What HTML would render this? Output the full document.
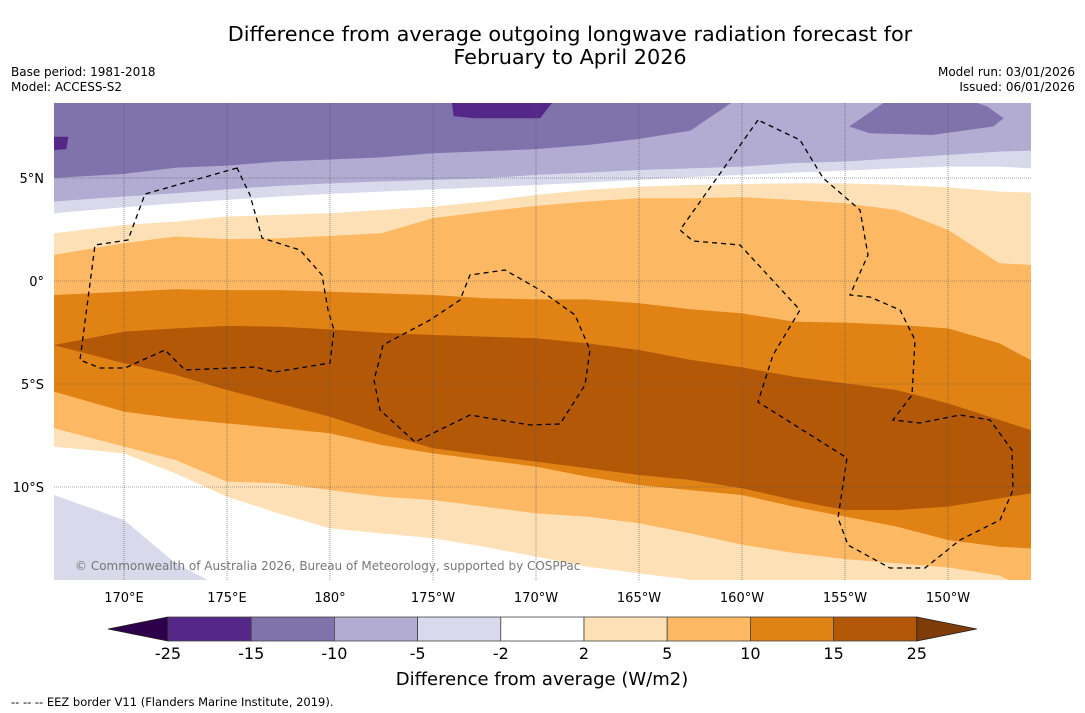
<!DOCTYPE html>
<html><head><meta charset="utf-8"><style>
body{margin:0;background:#fff;width:1085px;height:713px;overflow:hidden;font-family:"Liberation Sans","DejaVu Sans",sans-serif}
svg{position:absolute;left:0;top:0}
</style></head><body>
<svg id="c" width="1085" height="713" viewBox="0 0 1085 713">
<text x="570" y="41" text-anchor="middle" font-size="20.8" font-family="DejaVu Sans,sans-serif">Difference from average outgoing longwave radiation forecast for</text>
<text x="570" y="64" text-anchor="middle" font-size="20.8" font-family="DejaVu Sans,sans-serif">February to April 2026</text>
<text x="11" y="76" font-size="12" font-family="DejaVu Sans,sans-serif">Base period: 1981-2018</text>
<text x="11" y="91" font-size="12" font-family="DejaVu Sans,sans-serif">Model: ACCESS-S2</text>
<text x="1075" y="76" text-anchor="end" font-size="12" font-family="DejaVu Sans,sans-serif">Model run: 03/01/2026</text>
<text x="1075" y="91" text-anchor="end" font-size="12" font-family="DejaVu Sans,sans-serif">Issued: 06/01/2026</text>
<defs><clipPath id="mapclip"><rect x="54" y="103" width="977" height="477"/></clipPath></defs>
<g id="map" clip-path="url(#mapclip)"></g>
<g id="axes"></g>
<g id="cbar"></g>
<text x="542" y="685" text-anchor="middle" font-size="18" font-family="DejaVu Sans,sans-serif">Difference from average (W/m2)</text>
<text x="11" y="706" font-size="11.5" font-family="DejaVu Sans,sans-serif">--  --  -- EEZ border V11 (Flanders Marine Institute, 2019).</text>
</svg>
<script>
// longitudes (degrees east, >180 = west) of boundary samples
const lons=[166.6,170,172.5,175,177.5,180,182.5,185,187.5,190,192.5,195,197.5,200,202.5,205,207.5,210,212.5,214];
// contour boundary latitudes (top to bottom)
const b_m15_m10=[5.0,5.2,5.5,5.6,5.8,5.9,6.0,6.2,6.3,6.4,6.6,6.9,7.3,9,9,9,9,9,9,9];
const b_m10_m5=[3.86,4.10,4.26,4.45,4.62,4.74,4.83,4.91,4.99,5.15,5.26,5.39,5.47,5.55,5.72,5.80,5.96,6.12,6.28,6.33];
const b_m5_m2=[3.29,3.58,3.77,3.94,4.10,4.23,4.34,4.45,4.55,4.66,4.78,4.91,5.04,5.15,5.26,5.36,5.47,5.55,5.55,5.47];
const b_m2_2=[2.32,2.72,2.88,3.13,3.21,3.29,3.45,3.61,3.86,4.18,4.42,4.58,4.66,4.71,4.74,4.74,4.66,4.55,4.34,4.29];
const b_2_5=[1.27,1.83,2.16,2.03,2.07,2.19,2.32,3.05,3.37,3.64,3.86,4.02,4.02,4.07,3.94,3.77,3.45,2.48,0.86,0.78];
const b_5_10=[-0.68,-0.52,-0.40,-0.44,-0.44,-0.52,-0.60,-0.68,-0.84,-0.89,-0.89,-1.08,-1.37,-1.57,-1.97,-2.02,-2.13,-2.30,-3.03,-3.83];
const b_10_15=[-3.11,-2.46,-2.30,-2.18,-2.22,-2.35,-2.51,-2.62,-2.70,-2.78,-3.03,-3.35,-3.83,-4.19,-4.64,-4.97,-5.29,-5.94,-6.75,-7.23];
const b_15_10=[-3.11,-3.99,-4.56,-5.29,-5.94,-6.59,-7.39,-8.12,-8.45,-8.77,-9.09,-9.42,-9.66,-10.06,-10.63,-11.12,-11.12,-10.95,-10.55,-10.31];
const b_10_5=[-5.37,-6.34,-6.67,-6.91,-7.15,-7.39,-7.96,-8.37,-8.69,-9.01,-9.50,-9.90,-10.15,-10.39,-10.95,-11.44,-11.92,-12.57,-12.90,-12.98];
const b_5_2=[-7.15,-8.04,-8.69,-9.74,-9.82,-10.15,-10.47,-10.63,-10.95,-11.28,-11.44,-11.76,-12.25,-12.80,-13.2,-13.5,-13.7,-13.9,-14.3,-15];
const b_2_m2=[-8.04,-8.37,-9.34,-10.47,-11.28,-12.01,-12.25,-12.49,-12.90,-13.38,-13.87,-14.19,-14.51,-15,-15,-15,-15,-15,-15,-15];
const b_m2_m5=[-10.39,-11.6,-13.7,-15,-15,-15,-15,-15,-15,-15,-15,-15,-15,-15,-15,-15,-15,-15,-15,-15];
// blobs [lon,lat]
const blobDeepTop=[[185.9,8.8],[186.0,8.0],[187,7.9],[190.2,7.9],[190.9,8.8]];
const blobDeepLeft=[[166.0,7.0],[167.3,7.0],[167.2,6.4],[166.0,6.3]];
const blobRight=[[205.2,7.5],[206.2,7.17],[209.2,7.09],[212.2,7.5],[212.7,7.9],[211.9,8.47],[211.0,8.8],[207.1,8.8]];
// colour scale
const cbLabels=["-25","-15","-10","-5","-2","2","5","10","15","25"];
const cbColors=["#542788","#8073ac","#b2abd2","#d8daeb","#ffffff","#fee0b6","#fdb863","#e08214","#b35806"];
const xTicks=[170,175,180,185,190,195,200,205,210];
const xTickLabels=["170°E","175°E","180°","175°W","170°W","165°W","160°W","155°W","150°W"];
const yTicks=[5,0,-5,-10];
const yTickLabels=["5°N","0°","5°S","10°S"];

const NS='http://www.w3.org/2000/svg';
const X=lon=>124+(lon-170)*20.6;
const Y=lat=>281-lat*20.6;
function mk(tag,attrs,parent){const e=document.createElementNS(NS,tag);for(const k in attrs)e.setAttribute(k,attrs[k]);parent.appendChild(e);return e;}
const map=document.getElementById('map');
const base=mk('rect',{x:40,y:90,width:1010,height:510,fill:'#8073ac'},map);


const layers=[[b_m15_m10,'#b2abd2','band-minus10-minus5'],[b_m10_m5,'#d8daeb','band-minus5-minus2'],[b_m5_m2,'#ffffff','band-neutral-north'],[b_m2_2,'#fee0b6','band-2-5-north'],[b_2_5,'#fdb863','band-5-10-north'],[b_5_10,'#e08214','band-10-15-north'],[b_10_15,'#b35806','band-15-25'],[b_15_10,'#e08214','band-10-15-south'],[b_10_5,'#fdb863','band-5-10-south'],[b_5_2,'#fee0b6','band-2-5-south'],[b_2_m2,'#ffffff','band-neutral-south'],[b_m2_m5,'#d8daeb','band-minus5-minus2-south']];
layers.forEach(([b,col,name])=>{
  let pts=lons.map((l,i)=>X(l)+','+Y(b[i]));
  pts.unshift((X(lons[0])-5)+','+Y(b[0]));
  pts.push((X(lons[lons.length-1])+5)+','+Y(b[b.length-1]));
  pts.push('1040,600','40,600');
  const p=mk('polygon',{points:pts.join(' '),fill:col},map);
  
  
});
[[blobDeepTop,'#542788','blob-deep-top'],[blobDeepLeft,'#542788','blob-deep-left'],[blobRight,'#8073ac','blob-right-top']].forEach(([pts,col,name])=>{
  const p=mk('polygon',{points:pts.map(q=>X(q[0])+','+Y(q[1])).join(' '),fill:col},map);
  
  
});
// EEZ borders (geographic decoration)
const eez=[
"M237,168 L145,194 L128,240 L95,245 L80,360 L100,368 L125,368 L165,350 L185,370 L255,367 L275,372 L330,363 L334,330 L328,310 L322,275 L300,250 L262,238 L250,195 Z",
"M383,345 L378,365 L374,380 L380,410 L415,442 L470,415 L530,425 L560,424 L585,385 L590,350 L575,315 L540,290 L505,270 L470,275 L460,300 L430,320 Z",
"M758,120 L680,230 L693,241 L740,245 L800,310 L773,355 L758,402 L847,458 L838,518 L848,545 L890,568 L925,568 L960,540 L1000,520 L1013,490 L1012,450 L990,420 L960,415 L920,423 L893,420 L912,395 L915,340 L900,310 L870,297 L850,295 L868,255 L860,210 L823,178 L800,140 Z"];
eez.forEach((d,i)=>{
  const p=mk('path',{d:d,fill:'none',stroke:'#000','stroke-width':1.3,'stroke-dasharray':'5,4'},map);
  
  
});
const cr=mk('text',{x:75,y:570,'font-size':12,fill:'#777','font-family':'DejaVu Sans,sans-serif'},map);
cr.textContent='© Commonwealth of Australia 2026, Bureau of Meteorology, supported by COSPPac';


// axes / grid
const ax=document.getElementById('axes');
xTicks.forEach((t,i)=>{
  const l=mk('line',{x1:X(t),x2:X(t),y1:103,y2:580,stroke:'#555','stroke-width':0.6,'stroke-dasharray':'1,1'},ax);
  
  
  const tx=mk('text',{x:X(t),y:602,'text-anchor':'middle','font-size':13,'font-family':'DejaVu Sans,sans-serif'},ax);
  tx.textContent=xTickLabels[i];
  
  
});
yTicks.forEach((t,i)=>{
  const l=mk('line',{x1:54,x2:1031,y1:Y(t),y2:Y(t),stroke:'#555','stroke-width':0.6,'stroke-dasharray':'1,1'},ax);
  
  
  const tx=mk('text',{x:44,y:Y(t)+5,'text-anchor':'end','font-size':13,'font-family':'DejaVu Sans,sans-serif'},ax);
  tx.textContent=yTickLabels[i];
  
  
});
// colorbar
const cb=document.getElementById('cbar');
const cbX0=168,cbW=83.2,cbY=617,cbH=24;
const lt=mk('polygon',{points:`108,${cbY+12} ${cbX0},${cbY} ${cbX0},${cbY+cbH}`,fill:'#2d004b',stroke:'#222','stroke-width':0.8},cb);


cbColors.forEach((c,i)=>{
  const r=mk('rect',{x:cbX0+i*cbW,y:cbY,width:cbW,height:cbH,fill:c,stroke:'#444','stroke-width':0.8},cb);
  
  
});
const xe=cbX0+cbColors.length*cbW;
const rt=mk('polygon',{points:`${xe},${cbY} ${xe+60},${cbY+12} ${xe},${cbY+cbH}`,fill:'#7f3b08',stroke:'#222','stroke-width':0.8},cb);


cbLabels.forEach((s,i)=>{
  const t=mk('text',{x:cbX0+i*cbW,y:659,'text-anchor':'middle','font-size':16,'font-family':'DejaVu Sans,sans-serif'},cb);
  t.textContent=s;
  
  
});
</script>
</body></html>
